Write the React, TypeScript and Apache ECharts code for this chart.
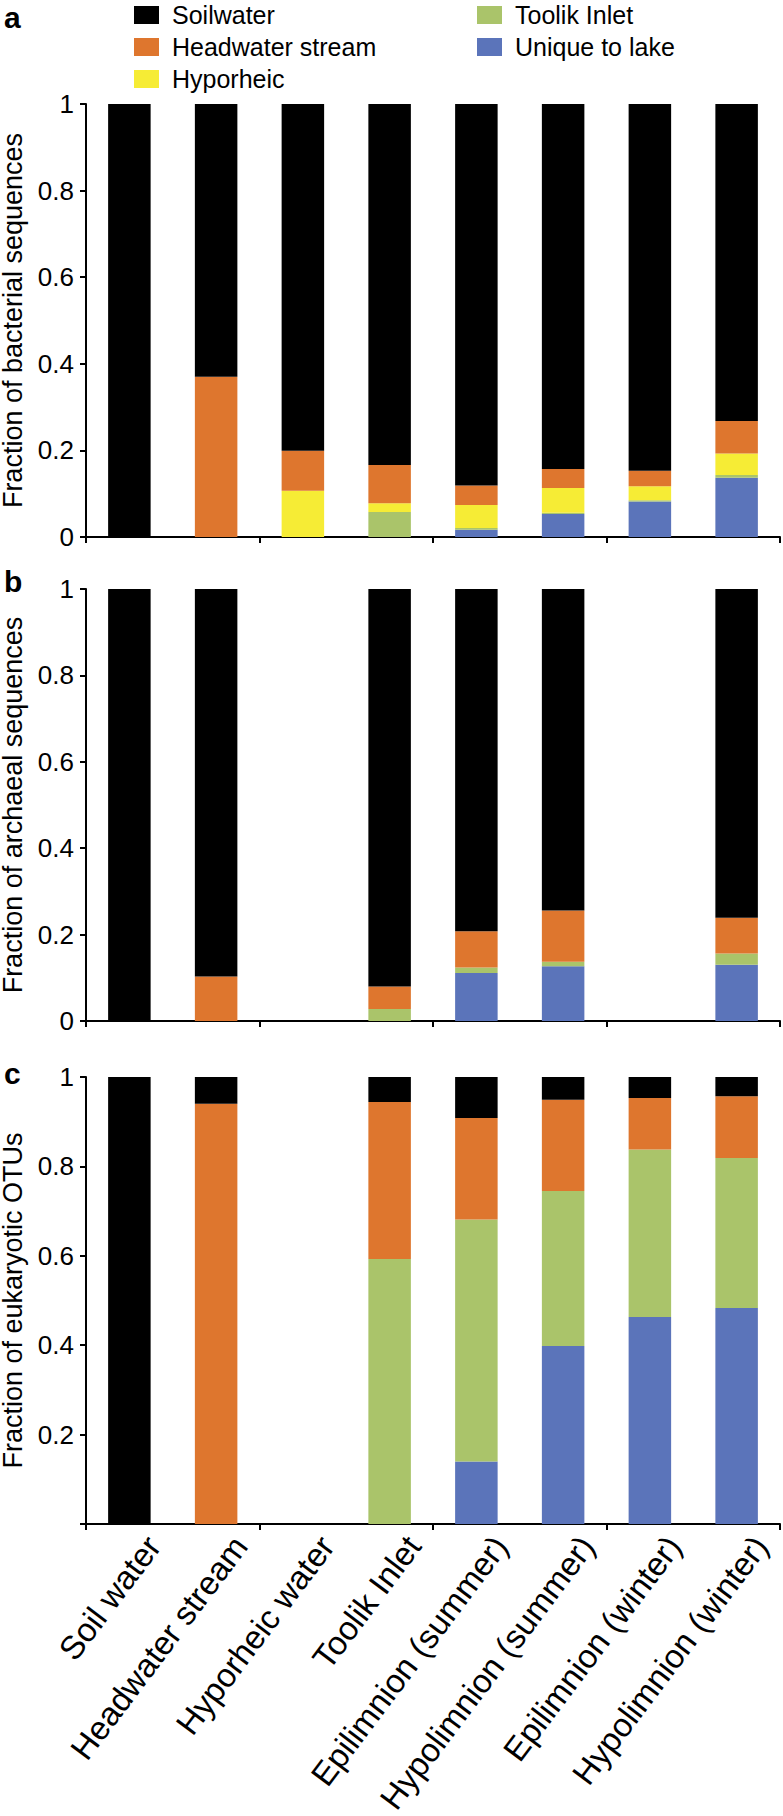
import React, { useEffect, useRef } from "react";
import * as echarts from "echarts";

const categories = [
  "Soil water",
  "Headwater stream",
  "Hyporheic water",
  "Toolik Inlet",
  "Epilimnion (summer)",
  "Hypolimnion (summer)",
  "Epilimnion (winter)",
  "Hypolimnion (winter)",
];

// stack order, bottom to top
const groupNames = ["Unique to lake", "Toolik Inlet", "Hyporheic", "Headwater stream", "Soilwater"];
const groupColors = ["#5B74BA", "#AAC46A", "#F6EC35", "#DE762E", "#000000"];
const legendCol1 = ["Soilwater", "Headwater stream", "Hyporheic"];
const legendCol2 = ["Toolik Inlet", "Unique to lake"];

// a: bacterial sequences
const bactUnique = [0, 0, 0, 0, 0.017, 0.053, 0.082, 0.137];
const bactToolik = [0, 0, 0, 0.058, 0.004, 0.003, 0.003, 0.006];
const bactHypo = [0, 0, 0.107, 0.02, 0.053, 0.057, 0.032, 0.05];
const bactHead = [0, 0.37, 0.092, 0.088, 0.045, 0.044, 0.036, 0.075];
const bactSoil = [1, 0.63, 0.801, 0.834, 0.881, 0.843, 0.847, 0.732];

// b: archaeal sequences
const archUnique = [0, 0, 0, 0, 0.111, 0.127, 0, 0.13];
const archToolik = [0, 0, 0, 0.028, 0.013, 0.01, 0, 0.026];
const archHypo = [0, 0, 0, 0, 0, 0, 0, 0];
const archHead = [0, 0.103, 0, 0.052, 0.084, 0.119, 0, 0.083];
const archSoil = [1, 0.897, 0, 0.92, 0.792, 0.744, 0, 0.761];

// c: eukaryotic OTUs
const eukUnique = [0, 0, 0, 0, 0.14, 0.398, 0.463, 0.483];
const eukToolik = [0, 0, 0, 0.593, 0.541, 0.347, 0.375, 0.336];
const eukHypo = [0, 0, 0, 0, 0, 0, 0, 0];
const eukHead = [0, 0.94, 0, 0.351, 0.227, 0.204, 0.115, 0.138];
const eukSoil = [1, 0.06, 0, 0.056, 0.092, 0.051, 0.047, 0.043];

const yTitles = [
  "Fraction of bacterial sequences",
  "Fraction of archaeal sequences",
  "Fraction of eukaryotic OTUs",
];
const panelLetters = ["a", "b", "c"];

const panels = [
  [bactUnique, bactToolik, bactHypo, bactHead, bactSoil],
  [archUnique, archToolik, archHypo, archHead, archSoil],
  [eukUnique, eukToolik, eukHypo, eukHead, eukSoil],
];

const FONT = "'Liberation Sans', Arial, Helvetica, sans-serif";

export default function App() {
  const ref = useRef<HTMLDivElement>(null);

  useEffect(() => {
    if (!ref.current) return;
    const chart = echarts.init(ref.current, undefined, { renderer: "svg" });

    const gridBoxes = [
      { top: 104, height: 433 },
      { top: 589, height: 432 },
      { top: 1077, height: 447 },
    ];
    const letterTops = [2, 566, 1058];

    const grids: any[] = gridBoxes.map((g) => ({
      left: 86,
      right: 3,
      top: g.top,
      height: g.height,
      containLabel: false,
      outerBoundsMode: "none",
    }));
    // label-only grid for the rotated category names (shifted so the names end just right of each bar)
    grids.push({ left: 110, right: -21, top: 1077, height: 447, containLabel: false, outerBoundsMode: "none" });

    const xAxes: any[] = gridBoxes.map((_, i) => ({
      type: "category",
      gridIndex: i,
      data: categories,
      boundaryGap: true,
      axisLine: { show: true, lineStyle: { color: "#000", width: 2 } },
      axisTick: { show: true, length: 6, alignWithLabel: false, lineStyle: { color: "#000", width: 2 } },
      axisLabel: { show: false },
    }));
    xAxes.push({
      type: "category",
      gridIndex: 3,
      data: categories,
      boundaryGap: true,
      axisLine: { show: false },
      axisTick: { show: false },
      axisLabel: {
        show: true,
        interval: 0,
        rotate: 53,
        margin: 16,
        color: "#000",
        fontSize: 33,
        fontFamily: FONT,
      },
    });

    const yAxes: any[] = gridBoxes.map((_, i) => ({
      type: "value",
      gridIndex: i,
      min: 0,
      max: 1,
      interval: 0.2,
      name: yTitles[i],
      nameLocation: "middle",
      nameGap: 58,
      nameTextStyle: { color: "#000", fontSize: 27, lineHeight: 28, fontFamily: FONT },
      splitLine: { show: false },
      axisLine: { show: true, lineStyle: { color: "#000", width: 2 } },
      axisTick: { show: true, length: 6, lineStyle: { color: "#000", width: 2 } },
      axisLabel: {
        color: "#000",
        fontSize: 26,
        fontFamily: FONT,
        margin: 12,
        formatter: (v: number) => {
          if (v === 0) return i === 2 ? "" : "0";
          if (v === 1) return "1";
          return v.toFixed(1);
        },
      },
    }));
    yAxes.push({ type: "value", gridIndex: 3, min: 0, max: 1, show: false });

    const series: any[] = [];
    panels.forEach((groups, p) => {
      groups.forEach((vals, g) => {
        series.push({
          type: "bar",
          name: groupNames[g],
          xAxisIndex: p,
          yAxisIndex: p,
          stack: "panel" + p,
          barWidth: "49%",
          data: vals,
          itemStyle: { color: groupColors[g] },
        });
      });
    });

    const legendBase = {
      orient: "vertical",
      top: 0,
      padding: 0,
      itemWidth: 25,
      itemHeight: 18,
      itemGap: 2,
      icon: "rect",
      selectedMode: false,
      textStyle: { color: "#000", fontSize: 25, lineHeight: 30, fontFamily: FONT, padding: [0, 0, 0, 8] },
    };

    chart.setOption({
      animation: false,
      backgroundColor: "#fff",
      legend: [
        { ...legendBase, left: 134, data: legendCol1 },
        { ...legendBase, left: 477, data: legendCol2 },
      ],
      grid: grids,
      xAxis: xAxes,
      yAxis: yAxes,
      series,
      graphic: panelLetters.map((t, i) => ({
        type: "text",
        left: 4,
        top: letterTops[i],
        style: { text: t, fontSize: 30, fontWeight: "bold", fontFamily: FONT, fill: "#000" },
      })),
    });

    return () => chart.dispose();
  }, []);

  return (
    <div
      ref={ref}
      style={{ position: "absolute", left: 0, top: 0, width: 783, height: 1816, background: "#fff" }}
    />
  );
}
